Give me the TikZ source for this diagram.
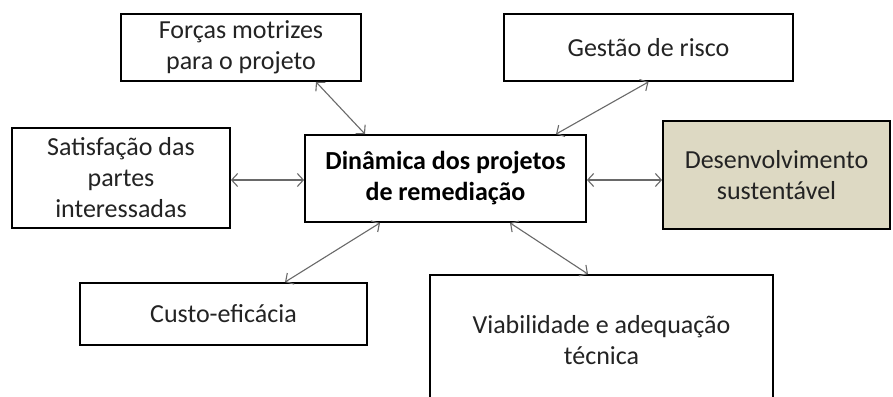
\documentclass[tikz,border=0pt]{standalone}
\usepackage{fontspec}
\setmainfont{Carlito}
\usetikzlibrary{arrows.meta}
\definecolor{tan}{RGB}{221,217,195}
\definecolor{txt}{RGB}{35,35,35}
\definecolor{conn}{RGB}{105,105,105}
\begin{document}
\begin{tikzpicture}[x=1pt,y=-1pt,
  box/.style={draw=black, line width=1.8pt, rectangle, inner sep=0pt, align=center,
    text=txt, font=\fontsize{26}{31}\selectfont},
  link/.style={draw=conn, line width=1.1pt, {Straight Barb[length=6pt,width=13pt]}-{Straight Barb[length=6pt,width=13pt]}}]
\useasboundingbox (0,0) rectangle (893,396);
\fill[white] (0,0) rectangle (893,396);
\begin{scope}
\clip (0,0) rectangle (893,396);
\node[box, minimum width=240pt, minimum height=67pt] (f) at (241,47.5) {Forças motrizes\\para o projeto};
\node[box, minimum width=289pt, minimum height=67pt] (g) at (648.5,47.5) {Gestão de risco};
\node[box, minimum width=218pt, minimum height=100pt] (s) at (121,178) {Satisfação das\\partes\\interessadas};
\node[box, minimum width=281pt, minimum height=87pt, font=\fontsize{26}{31}\selectfont\bfseries, text=black] (d) at (445.5,178.5) {Dinâmica dos projetos\\de remediação};
\node[box, fill=tan, minimum width=227pt, minimum height=108pt] (dv) at (776.5,175) {Desenvolvimento\\sustentável};
\node[box, minimum width=287pt, minimum height=62pt] (c) at (223.5,314) {Custo-eficácia};
\node[box, minimum width=343pt, minimum height=130pt] (v) at (601.5,340) {Viabilidade e adequação\\técnica};
\end{scope}
\draw[link] ([xshift=75pt]f.south) -- ([xshift=-80.5pt]d.north);
\draw[link] (g.south) -- ([xshift=110.5pt]d.north);
\draw[link] ([yshift=-2pt]s.east) -- ([yshift=-1.5pt]d.west);
\draw[link] ([yshift=-1.5pt]d.east) -- ([yshift=-1.5pt]d.east -| dv.west);
\draw[link] ([xshift=-65.5pt]d.south) -- ([xshift=61.5pt]c.north);
\draw[link] ([xshift=64.5pt]d.south) -- ([xshift=-13.5pt]v.north);
\end{tikzpicture}
\end{document}
